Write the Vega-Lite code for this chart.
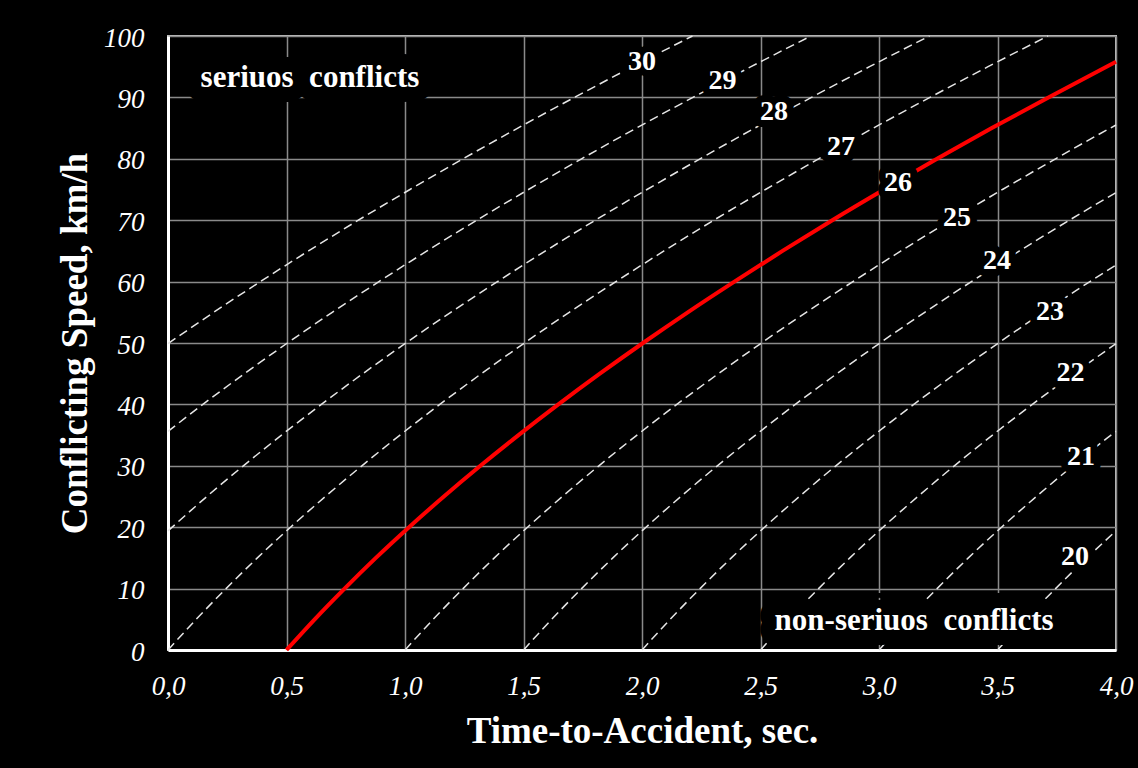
{
  "$schema": "https://vega.github.io/schema/vega-lite/v6.json",
  "width": 948,
  "height": 614,
  "autosize": {"type": "none"},
  "padding": {"left": 168, "top": 36, "right": 22, "bottom": 118},
  "background": "black",
  "config": {
    "view": {"stroke": "#c0c0c0", "strokeWidth": 2},
    "axis": {
      "gridColor": "#8a8a8a",
      "gridWidth": 1.5,
      "domainColor": "white",
      "domainWidth": 3,
      "ticks": false,
      "tickSize": 0,
      "labelColor": "white",
      "labelFont": "Liberation Serif",
      "labelFontStyle": "italic",
      "labelFontSize": 27,
      "labelFlush": false,
      "labelOverlap": false,
      "titleColor": "white",
      "titleFont": "Liberation Serif",
      "titleFontWeight": "bold",
      "titleFontSize": 37
    }
  },
  "datasets": {
    "curves": [
      {"curve": "30", "ta": 0, "speed": 49.9},
      {"curve": "30", "ta": 0.193, "speed": 55},
      {"curve": "30", "ta": 0.39, "speed": 60},
      {"curve": "30", "ta": 0.593, "speed": 65},
      {"curve": "30", "ta": 0.803, "speed": 70},
      {"curve": "30", "ta": 1.021, "speed": 75},
      {"curve": "30", "ta": 1.245, "speed": 80},
      {"curve": "30", "ta": 1.476, "speed": 85},
      {"curve": "30", "ta": 1.715, "speed": 90},
      {"curve": "30", "ta": 1.96, "speed": 95},
      {"curve": "30", "ta": 2.213, "speed": 100},
      {"curve": "29", "ta": 0, "speed": 35.6},
      {"curve": "29", "ta": 0.147, "speed": 40},
      {"curve": "29", "ta": 0.322, "speed": 45},
      {"curve": "29", "ta": 0.504, "speed": 50},
      {"curve": "29", "ta": 0.693, "speed": 55},
      {"curve": "29", "ta": 0.89, "speed": 60},
      {"curve": "29", "ta": 1.093, "speed": 65},
      {"curve": "29", "ta": 1.303, "speed": 70},
      {"curve": "29", "ta": 1.521, "speed": 75},
      {"curve": "29", "ta": 1.745, "speed": 80},
      {"curve": "29", "ta": 1.976, "speed": 85},
      {"curve": "29", "ta": 2.215, "speed": 90},
      {"curve": "29", "ta": 2.46, "speed": 95},
      {"curve": "29", "ta": 2.713, "speed": 100},
      {"curve": "28", "ta": 0, "speed": 19.4},
      {"curve": "28", "ta": 0.164, "speed": 25},
      {"curve": "28", "ta": 0.318, "speed": 30},
      {"curve": "28", "ta": 0.479, "speed": 35},
      {"curve": "28", "ta": 0.647, "speed": 40},
      {"curve": "28", "ta": 0.822, "speed": 45},
      {"curve": "28", "ta": 1.004, "speed": 50},
      {"curve": "28", "ta": 1.193, "speed": 55},
      {"curve": "28", "ta": 1.39, "speed": 60},
      {"curve": "28", "ta": 1.593, "speed": 65},
      {"curve": "28", "ta": 1.803, "speed": 70},
      {"curve": "28", "ta": 2.021, "speed": 75},
      {"curve": "28", "ta": 2.245, "speed": 80},
      {"curve": "28", "ta": 2.476, "speed": 85},
      {"curve": "28", "ta": 2.715, "speed": 90},
      {"curve": "28", "ta": 2.96, "speed": 95},
      {"curve": "28", "ta": 3.213, "speed": 100},
      {"curve": "27", "ta": 0, "speed": 0},
      {"curve": "27", "ta": 0.119, "speed": 5},
      {"curve": "27", "ta": 0.245, "speed": 10},
      {"curve": "27", "ta": 0.377, "speed": 15},
      {"curve": "27", "ta": 0.517, "speed": 20},
      {"curve": "27", "ta": 0.664, "speed": 25},
      {"curve": "27", "ta": 0.818, "speed": 30},
      {"curve": "27", "ta": 0.979, "speed": 35},
      {"curve": "27", "ta": 1.147, "speed": 40},
      {"curve": "27", "ta": 1.322, "speed": 45},
      {"curve": "27", "ta": 1.504, "speed": 50},
      {"curve": "27", "ta": 1.693, "speed": 55},
      {"curve": "27", "ta": 1.89, "speed": 60},
      {"curve": "27", "ta": 2.093, "speed": 65},
      {"curve": "27", "ta": 2.303, "speed": 70},
      {"curve": "27", "ta": 2.521, "speed": 75},
      {"curve": "27", "ta": 2.745, "speed": 80},
      {"curve": "27", "ta": 2.976, "speed": 85},
      {"curve": "27", "ta": 3.215, "speed": 90},
      {"curve": "27", "ta": 3.46, "speed": 95},
      {"curve": "27", "ta": 3.713, "speed": 100},
      {"curve": "26", "ta": 0.5, "speed": 0},
      {"curve": "26", "ta": 0.619, "speed": 5},
      {"curve": "26", "ta": 0.745, "speed": 10},
      {"curve": "26", "ta": 0.877, "speed": 15},
      {"curve": "26", "ta": 1.017, "speed": 20},
      {"curve": "26", "ta": 1.164, "speed": 25},
      {"curve": "26", "ta": 1.318, "speed": 30},
      {"curve": "26", "ta": 1.479, "speed": 35},
      {"curve": "26", "ta": 1.647, "speed": 40},
      {"curve": "26", "ta": 1.822, "speed": 45},
      {"curve": "26", "ta": 2.004, "speed": 50},
      {"curve": "26", "ta": 2.193, "speed": 55},
      {"curve": "26", "ta": 2.39, "speed": 60},
      {"curve": "26", "ta": 2.593, "speed": 65},
      {"curve": "26", "ta": 2.803, "speed": 70},
      {"curve": "26", "ta": 3.021, "speed": 75},
      {"curve": "26", "ta": 3.245, "speed": 80},
      {"curve": "26", "ta": 3.476, "speed": 85},
      {"curve": "26", "ta": 3.715, "speed": 90},
      {"curve": "26", "ta": 3.96, "speed": 95},
      {"curve": "26", "ta": 4.0, "speed": 95.8},
      {"curve": "25", "ta": 1.0, "speed": 0},
      {"curve": "25", "ta": 1.119, "speed": 5},
      {"curve": "25", "ta": 1.245, "speed": 10},
      {"curve": "25", "ta": 1.377, "speed": 15},
      {"curve": "25", "ta": 1.517, "speed": 20},
      {"curve": "25", "ta": 1.664, "speed": 25},
      {"curve": "25", "ta": 1.818, "speed": 30},
      {"curve": "25", "ta": 1.979, "speed": 35},
      {"curve": "25", "ta": 2.147, "speed": 40},
      {"curve": "25", "ta": 2.322, "speed": 45},
      {"curve": "25", "ta": 2.504, "speed": 50},
      {"curve": "25", "ta": 2.693, "speed": 55},
      {"curve": "25", "ta": 2.89, "speed": 60},
      {"curve": "25", "ta": 3.093, "speed": 65},
      {"curve": "25", "ta": 3.303, "speed": 70},
      {"curve": "25", "ta": 3.521, "speed": 75},
      {"curve": "25", "ta": 3.745, "speed": 80},
      {"curve": "25", "ta": 3.976, "speed": 85},
      {"curve": "25", "ta": 4.0, "speed": 85.5},
      {"curve": "24", "ta": 1.5, "speed": 0},
      {"curve": "24", "ta": 1.619, "speed": 5},
      {"curve": "24", "ta": 1.745, "speed": 10},
      {"curve": "24", "ta": 1.877, "speed": 15},
      {"curve": "24", "ta": 2.017, "speed": 20},
      {"curve": "24", "ta": 2.164, "speed": 25},
      {"curve": "24", "ta": 2.318, "speed": 30},
      {"curve": "24", "ta": 2.479, "speed": 35},
      {"curve": "24", "ta": 2.647, "speed": 40},
      {"curve": "24", "ta": 2.822, "speed": 45},
      {"curve": "24", "ta": 3.004, "speed": 50},
      {"curve": "24", "ta": 3.193, "speed": 55},
      {"curve": "24", "ta": 3.39, "speed": 60},
      {"curve": "24", "ta": 3.593, "speed": 65},
      {"curve": "24", "ta": 3.803, "speed": 70},
      {"curve": "24", "ta": 4.0, "speed": 74.5},
      {"curve": "23", "ta": 2.0, "speed": 0},
      {"curve": "23", "ta": 2.119, "speed": 5},
      {"curve": "23", "ta": 2.245, "speed": 10},
      {"curve": "23", "ta": 2.377, "speed": 15},
      {"curve": "23", "ta": 2.517, "speed": 20},
      {"curve": "23", "ta": 2.664, "speed": 25},
      {"curve": "23", "ta": 2.818, "speed": 30},
      {"curve": "23", "ta": 2.979, "speed": 35},
      {"curve": "23", "ta": 3.147, "speed": 40},
      {"curve": "23", "ta": 3.322, "speed": 45},
      {"curve": "23", "ta": 3.504, "speed": 50},
      {"curve": "23", "ta": 3.693, "speed": 55},
      {"curve": "23", "ta": 3.89, "speed": 60},
      {"curve": "23", "ta": 4.0, "speed": 62.7},
      {"curve": "22", "ta": 2.5, "speed": 0},
      {"curve": "22", "ta": 2.619, "speed": 5},
      {"curve": "22", "ta": 2.745, "speed": 10},
      {"curve": "22", "ta": 2.877, "speed": 15},
      {"curve": "22", "ta": 3.017, "speed": 20},
      {"curve": "22", "ta": 3.164, "speed": 25},
      {"curve": "22", "ta": 3.318, "speed": 30},
      {"curve": "22", "ta": 3.479, "speed": 35},
      {"curve": "22", "ta": 3.647, "speed": 40},
      {"curve": "22", "ta": 3.822, "speed": 45},
      {"curve": "22", "ta": 4.0, "speed": 49.9},
      {"curve": "21", "ta": 3.0, "speed": 0},
      {"curve": "21", "ta": 3.119, "speed": 5},
      {"curve": "21", "ta": 3.245, "speed": 10},
      {"curve": "21", "ta": 3.377, "speed": 15},
      {"curve": "21", "ta": 3.517, "speed": 20},
      {"curve": "21", "ta": 3.664, "speed": 25},
      {"curve": "21", "ta": 3.818, "speed": 30},
      {"curve": "21", "ta": 3.979, "speed": 35},
      {"curve": "21", "ta": 4.0, "speed": 35.6},
      {"curve": "20", "ta": 3.5, "speed": 0},
      {"curve": "20", "ta": 3.619, "speed": 5},
      {"curve": "20", "ta": 3.745, "speed": 10},
      {"curve": "20", "ta": 3.877, "speed": 15},
      {"curve": "20", "ta": 4.0, "speed": 19.4}
    ],
    "labels": [
      {"label": "30", "kind": "num", "ta": 2.0, "speed": 95.7},
      {"label": "29", "kind": "num", "ta": 2.34, "speed": 92.7},
      {"label": "28", "kind": "num", "ta": 2.557, "speed": 87.7},
      {"label": "27", "kind": "num", "ta": 2.84, "speed": 82.0},
      {"label": "26", "kind": "num", "ta": 3.08, "speed": 76.1},
      {"label": "25", "kind": "num", "ta": 3.329, "speed": 70.4},
      {"label": "24", "kind": "num", "ta": 3.498, "speed": 63.4},
      {"label": "23", "kind": "num", "ta": 3.722, "speed": 55.0},
      {"label": "22", "kind": "num", "ta": 3.808, "speed": 45.1},
      {"label": "21", "kind": "num", "ta": 3.852, "speed": 31.5},
      {"label": "20", "kind": "num", "ta": 3.827, "speed": 15.2},
      {"label": "seriuos\u00a0 conflicts", "kind": "region", "ta": 0.599, "speed": 93.2},
      {"label": "non-seriuos\u00a0 conflicts", "kind": "region", "ta": 3.148, "speed": 4.7}
    ]
  },
  "encoding": {
    "x": {
      "field": "ta",
      "type": "quantitative",
      "scale": {"domain": [0, 4], "nice": false, "zero": false},
      "axis": {
        "title": "Time-to-Accident, sec.",
        "values": [0, 0.5, 1, 1.5, 2, 2.5, 3, 3.5, 4],
        "labelExpr": "replace(format(datum.value, '.1f'), '.', ',')",
        "labelPadding": 23,
        "titleY": 92,
        "titleBaseline": "alphabetic"
      }
    },
    "y": {
      "field": "speed",
      "type": "quantitative",
      "scale": {"domain": [0, 100], "nice": false},
      "axis": {
        "title": "Conflicting Speed, km/h",
        "values": [0, 10, 20, 30, 40, 50, 60, 70, 80, 90, 100],
        "format": "d",
        "labelPadding": 24,
        "labelOffset": 2,
        "titleX": -82,
        "titleBaseline": "alphabetic"
      }
    }
  },
  "layer": [
    {
      "data": {"name": "curves"},
      "transform": [{"filter": "datum.curve !== '26'"}],
      "mark": {"type": "line", "color": "#e6e6e6", "strokeWidth": 1.5, "strokeDash": [9, 5], "interpolate": "monotone"},
      "encoding": {"detail": {"field": "curve"}}
    },
    {
      "data": {"name": "curves"},
      "transform": [{"filter": "datum.curve === '26'"}],
      "mark": {"type": "line", "color": "#ff0000", "strokeWidth": 4, "interpolate": "monotone"},
      "encoding": {"detail": {"field": "curve"}}
    },
    {
      "data": {"name": "labels"},
      "transform": [{"filter": "datum.kind === 'num'"}],
      "mark": {"type": "text", "font": "Liberation Serif", "fontWeight": "bold", "fontSize": 28, "fill": "black", "stroke": "black", "strokeWidth": 14, "strokeJoin": "round", "align": "center", "baseline": "middle"},
      "encoding": {"text": {"field": "label"}}
    },
    {
      "data": {"name": "labels"},
      "transform": [{"filter": "datum.kind === 'region'"}],
      "mark": {"type": "text", "font": "Liberation Serif", "fontWeight": "bold", "fontSize": 31, "fill": "black", "stroke": "black", "strokeWidth": 30, "strokeJoin": "round", "align": "center", "baseline": "middle"},
      "encoding": {"text": {"field": "label"}}
    },
    {
      "data": {"name": "labels"},
      "transform": [{"filter": "datum.kind === 'num'"}],
      "mark": {"type": "text", "font": "Liberation Serif", "fontWeight": "bold", "fontSize": 28, "color": "white", "align": "center", "baseline": "middle"},
      "encoding": {"text": {"field": "label"}}
    },
    {
      "data": {"name": "labels"},
      "transform": [{"filter": "datum.kind === 'region'"}],
      "mark": {"type": "text", "font": "Liberation Serif", "fontWeight": "bold", "fontSize": 31, "color": "white", "align": "center", "baseline": "middle"},
      "encoding": {"text": {"field": "label"}}
    }
  ]
}
